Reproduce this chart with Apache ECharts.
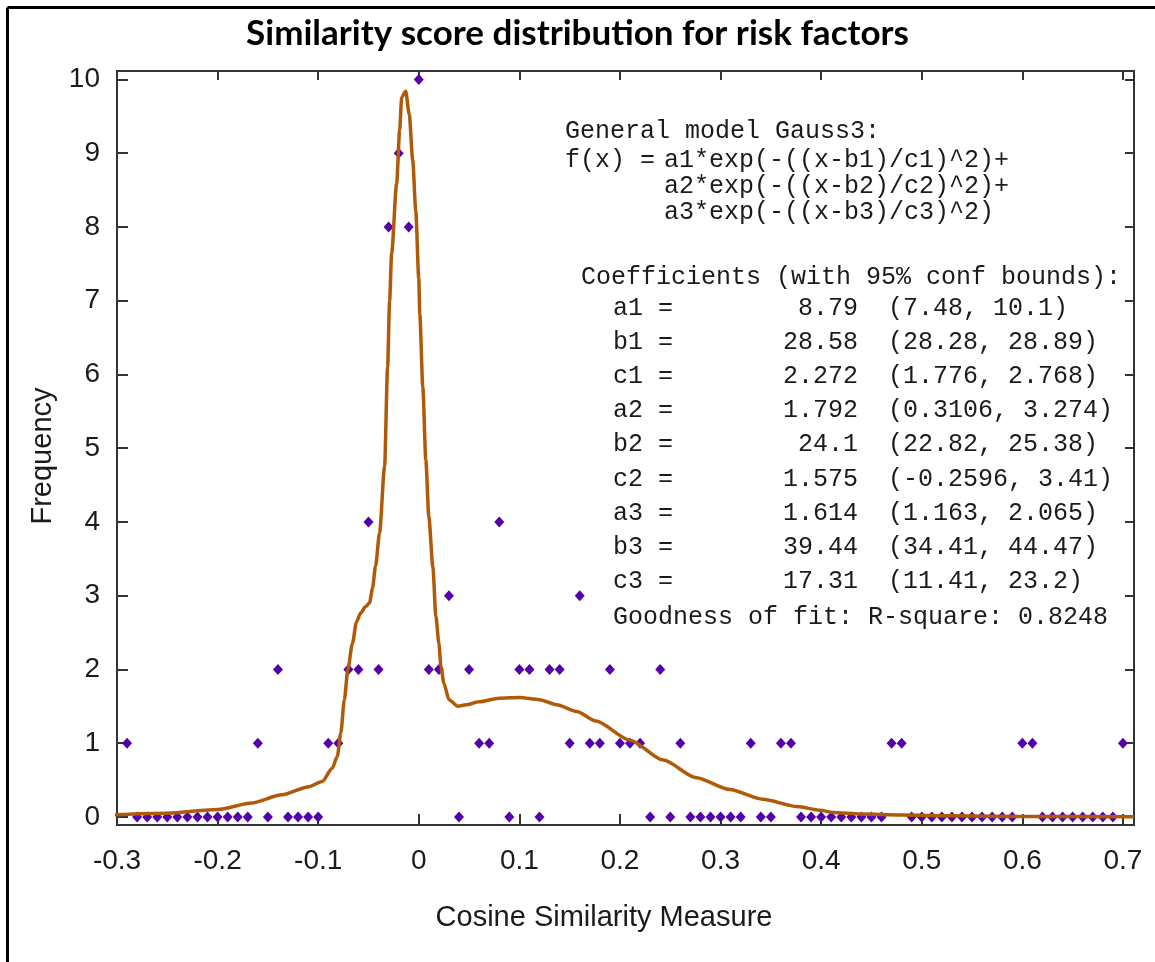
<!DOCTYPE html>
<html lang="en">
<head>
    <meta charset="UTF-8">
    <title>Similarity score distribution for risk factors</title>
    <script src="https://cdn.jsdelivr.net/npm/echarts@6/dist/echarts.min.js"></script>
    <style>
        html, body { margin: 0; padding: 0; background: #fff; }
        #chart { width: 1155px; height: 962px; }
    </style>
</head>
<body>
    <div id="chart"></div>

    <script>
        // cosine similarity bins and how many risk factors fall in each
        var binX = [
            -0.29, -0.28, -0.27, -0.26, -0.25, -0.24, -0.23, -0.22, -0.21, -0.20,
            -0.19, -0.18, -0.17, -0.16, -0.15, -0.14, -0.13, -0.12, -0.11, -0.10,
            -0.09, -0.08, -0.07, -0.06, -0.05, -0.04, -0.03, -0.02, -0.01, 0.00,
            0.01, 0.02, 0.03, 0.04, 0.05, 0.06, 0.07, 0.08, 0.09, 0.10,
            0.11, 0.12, 0.13, 0.14, 0.15, 0.16, 0.17, 0.18, 0.19, 0.20,
            0.21, 0.22, 0.23, 0.24, 0.25, 0.26, 0.27, 0.28, 0.29, 0.30,
            0.31, 0.32, 0.33, 0.34, 0.35, 0.36, 0.37, 0.38, 0.39, 0.40,
            0.41, 0.42, 0.43, 0.44, 0.45, 0.46, 0.47, 0.48, 0.49, 0.50,
            0.51, 0.52, 0.53, 0.54, 0.55, 0.56, 0.57, 0.58, 0.59, 0.60,
            0.61, 0.62, 0.63, 0.64, 0.65, 0.66, 0.67, 0.68, 0.69, 0.70
        ];
        var binFreq = [
            1, 0, 0, 0, 0, 0, 0, 0, 0, 0,
            0, 0, 0, 1, 0, 2, 0, 0, 0, 0,
            1, 1, 2, 2, 4, 2, 8, 9, 8, 10,
            2, 2, 3, 0, 2, 1, 1, 4, 0, 2,
            2, 0, 2, 2, 1, 3, 1, 1, 2, 1,
            1, 1, 0, 2, 0, 1, 0, 0, 0, 0,
            0, 0, 1, 0, 0, 1, 1, 0, 0, 0,
            0, 0, 0, 0, 0, 0, 1, 1, 0, 0,
            0, 0, 0, 0, 0, 0, 0, 0, 0, 1,
            1, 0, 0, 0, 0, 0, 0, 0, 0, 1
        ];

        // fitted Gauss3 curve
        var fitX = [
            -0.302, -0.25, -0.2, -0.166, -0.136, -0.109, -0.096, -0.086, -0.081, -0.0775,
            -0.074, -0.0705, -0.066, -0.062, -0.058, -0.053, -0.049, -0.046, -0.043, -0.039,
            -0.034, -0.031, -0.029, -0.027, -0.022, -0.019, -0.017, -0.013, -0.0095, -0.006,
            -0.003, 0.000, 0.001, 0.004, 0.007, 0.010, 0.014, 0.017, 0.020, 0.022,
            0.025, 0.030, 0.039, 0.047, 0.060, 0.080, 0.100, 0.120, 0.137, 0.157,
            0.176, 0.21, 0.243, 0.276, 0.309, 0.342, 0.376, 0.399, 0.412, 0.439,
            0.479, 0.531, 0.6, 0.711
        ];
        var fitY = [
            0.03, 0.05, 0.10, 0.19, 0.30, 0.41, 0.48, 0.66, 0.82, 1.14,
            1.59, 2.0, 2.35, 2.64, 2.76, 2.85, 2.90, 3.1, 3.4, 3.85,
            4.75, 6.1, 7.0, 7.64, 8.59, 9.31, 9.76, 9.84, 9.53, 8.9,
            8.22, 7.3, 6.82, 5.83, 4.84, 4.07, 3.39, 2.72, 2.35, 2.04,
            1.81, 1.59, 1.50, 1.52, 1.56, 1.61, 1.62, 1.59, 1.52, 1.43,
            1.30, 1.04, 0.77, 0.53, 0.37, 0.24, 0.14, 0.09, 0.06, 0.04,
            0.027, 0.014, 0.006, 0.003
        ];

        var yTicks = [0, 1, 2, 3, 4, 5, 6, 7, 8, 9, 10];

        var modelLines = [
            'General model Gauss3:',
            'f(x) =',
            'a1*exp(-((x-b1)/c1)^2)+',
            'a2*exp(-((x-b2)/c2)^2)+',
            'a3*exp(-((x-b3)/c3)^2)'
        ];
        var coefNames = ['a1', 'b1', 'c1', 'a2', 'b2', 'c2', 'a3', 'b3', 'c3'];
        var coefValues = ['8.79', '28.58', '2.272', '1.792', '24.1', '1.575', '1.614', '39.44', '17.31'];
        var coefBounds = [
            '(7.48, 10.1)', '(28.28, 28.89)', '(1.776, 2.768)',
            '(0.3106, 3.274)', '(22.82, 25.38)', '(-0.2596, 3.41)',
            '(1.163, 2.065)', '(34.41, 44.47)', '(11.41, 23.2)'
        ];
        var rSquare = '0.8248';

        var mono = '25px "Liberation Mono", "DejaVu Sans Mono", monospace';
        var textColor = '#1b1b1b';

        function monoText(str, x, y, align) {
            return {
                type: 'text', x: x, y: y, silent: true,
                style: { text: str, font: mono, fill: textColor, align: align || 'left', verticalAlign: 'middle' }
            };
        }

        var graphics = [
            // outer frame (left + top edges)
            { type: 'line', shape: { x1: 7.5, y1: 7.5, x2: 1155, y2: 7.5 }, style: { stroke: '#000', lineWidth: 3 } },
            { type: 'line', shape: { x1: 7.5, y1: 7.5, x2: 7.5, y2: 962 }, style: { stroke: '#000', lineWidth: 3 } },
            monoText(modelLines[0], 565, 131),
            monoText(modelLines[1], 565, 160),
            monoText(modelLines[2], 664, 160),
            monoText(modelLines[3], 664, 186),
            monoText(modelLines[4], 664, 212),
            monoText('Coefficients (with 95% conf bounds):', 581, 277)
        ];
        coefNames.forEach(function (name, i) {
            var y = 308 + i * 34.2;
            graphics.push(monoText(name + ' =', 613, y));
            graphics.push(monoText(coefValues[i], 858, y, 'right'));
            graphics.push(monoText(coefBounds[i], 888, y));
        });
        graphics.push(monoText('Goodness of fit: R-square: ' + rSquare, 613, 617));

        var scatterData = binX.map(function (x, i) { return [x, binFreq[i]]; });
        var fitData = fitX.map(function (x, i) { return [x, fitY[i]]; });

        var axisLineStyle = { color: '#333', width: 2 };
        var tickStyle = { color: '#333', width: 2 };

        var chart = echarts.init(document.getElementById('chart'), null, { renderer: 'canvas' });
        var option = {
            backgroundColor: '#fff',
            animation: false,
            title: {
                text: 'Similarity score distribution for risk factors',
                left: 'center',
                top: 16,
                padding: 0,
                textStyle: { fontFamily: 'Lato', fontWeight: 'bold', fontSize: 35, color: '#000' }
            },
            grid: { left: 117, right: 21, top: 71, bottom: 137 },
            xAxis: [{
                type: 'value',
                min: -0.3,
                max: 0.711,
                interval: 0.1,
                name: 'Cosine Similarity Measure',
                nameLocation: 'middle',
                nameGap: 78,
                nameTextStyle: { fontFamily: 'Liberation Sans', fontSize: 29, color: '#1b1b1b', padding: [0, 43, 0, 0] },
                axisLine: { show: true, onZero: false, lineStyle: axisLineStyle },
                axisTick: { show: true, inside: true, length: 11, lineStyle: tickStyle },
                splitLine: { show: false },
                axisLabel: {
                    fontFamily: 'Liberation Sans', fontSize: 28, color: '#1b1b1b', margin: 22,
                    formatter: function (v) {
                        var k = Math.round(v * 10);
                        if (Math.abs(v * 10 - k) > 1e-6) return '';
                        return String(k / 10);
                    }
                }
            }, {
                type: 'value',
                position: 'top',
                min: -0.3,
                max: 0.711,
                interval: 0.1,
                axisLine: { show: true, onZero: false, lineStyle: axisLineStyle },
                axisTick: { show: true, inside: true, length: 9, lineStyle: tickStyle },
                splitLine: { show: false },
                axisLabel: { show: false }
            }],
            yAxis: [{
                type: 'value',
                min: -0.11,
                max: 10.115,
                name: 'Frequency',
                nameLocation: 'middle',
                nameGap: 57,
                nameTextStyle: { fontFamily: 'Liberation Sans', fontSize: 29, color: '#1b1b1b', padding: [0, 16, 0, 0] },
                axisLine: { show: true, onZero: false, lineStyle: axisLineStyle },
                axisTick: { show: true, inside: true, length: 11, lineStyle: tickStyle, customValues: yTicks },
                splitLine: { show: false },
                axisLabel: {
                    fontFamily: 'Liberation Sans', fontSize: 28, color: '#1b1b1b', margin: 17,
                    customValues: yTicks,
                    formatter: function (v) { return String(Math.round(v)); }
                }
            }, {
                type: 'value',
                position: 'right',
                min: -0.11,
                max: 10.115,
                axisLine: { show: true, onZero: false, lineStyle: axisLineStyle },
                axisTick: { show: true, inside: true, length: 9, lineStyle: tickStyle, customValues: yTicks },
                splitLine: { show: false },
                axisLabel: { show: false }
            }],
            series: [{
                name: 'Frequency',
                type: 'scatter',
                data: scatterData,
                symbol: 'diamond',
                symbolSize: [10, 11],
                itemStyle: { color: '#5400aa', opacity: 1 }
            }, {
                name: 'Gauss3 fit',
                type: 'line',
                data: fitData,
                showSymbol: false,
                smooth: 0.25,
                smoothMonotone: 'x',
                lineStyle: { color: '#b05a08', width: 3.5 }
            }],
            graphic: graphics
        };
        chart.setOption(option);
    </script>
</body>
</html>
